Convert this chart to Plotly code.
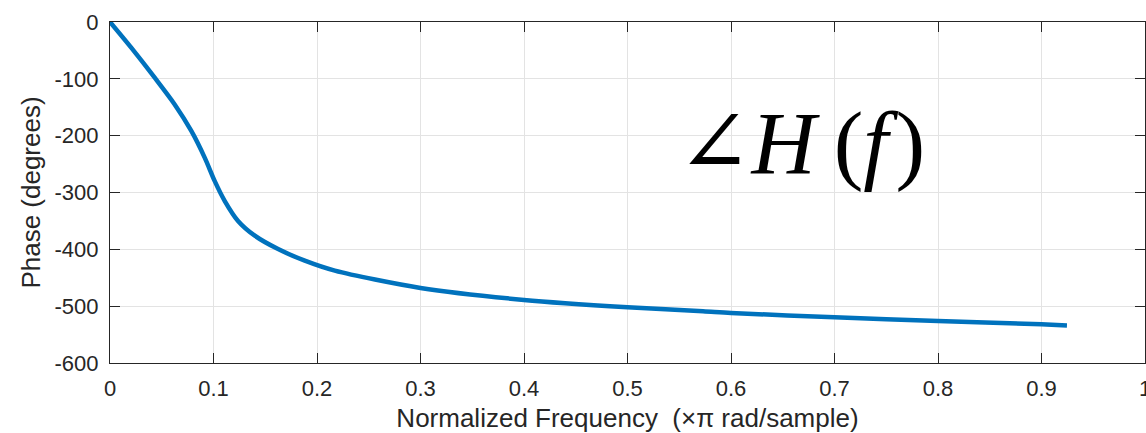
import plotly.graph_objects as go

# Data
freq = [0.0, 0.0207, 0.0432, 0.0625, 0.0787, 0.0916, 0.1012, 0.1109, 0.1237,
        0.1399, 0.1624, 0.1882, 0.2172, 0.3, 0.4, 0.5, 0.573, 0.6, 0.7, 0.8,
        0.9, 0.9246]
phase = [0, -45.6, -98, -145, -192, -239, -280, -315, -350,
         -376, -399.5, -420, -437.5, -468, -489, -502, -509, -512, -519.5, -526,
         -532, -534]

x_ticks = [0, 0.1, 0.2, 0.3, 0.4, 0.5, 0.6, 0.7, 0.8, 0.9, 1]
x_tick_labels = ["0", "0.1", "0.2", "0.3", "0.4", "0.5", "0.6", "0.7", "0.8", "0.9", "1"]
y_ticks = [0, -100, -200, -300, -400, -500, -600]
y_tick_labels = ["0", "-100", "-200", "-300", "-400", "-500", "-600"]

axis_color = "#262626"
font_family = "Liberation Sans, Arial, sans-serif"

fig = go.Figure()
fig.add_trace(go.Scatter(
    x=freq, y=phase, mode="lines",
    line=dict(color="#0072BD", width=4.5, shape="spline", smoothing=0.8),
    showlegend=False, hoverinfo="skip",
))

fig.add_annotation(
    x=0.668, y=-213, xref="x", yref="y",
    text="∠<i>H</i>\u2009(<i>f</i>\u200a)", showarrow=False,
    font=dict(family="Liberation Serif, DejaVu Serif, serif", size=89, color="black"),
)

common = dict(
    showline=True, linecolor=axis_color, linewidth=1, mirror="ticks",
    ticks="inside", ticklen=10, tickcolor=axis_color, tickwidth=1,
    showgrid=True, gridcolor="#e3e3e3", gridwidth=1, zeroline=False,
    tickfont=dict(family=font_family, size=22, color=axis_color),
    automargin=False, ticklabeloverflow="allow",
)

fig.update_xaxes(
    range=[0, 1], tickvals=x_ticks, ticktext=x_tick_labels,
    ticklabelstandoff=6,
    title=dict(text="Normalized Frequency&nbsp;&nbsp;(×π rad/sample)",
               font=dict(family=font_family, size=26, color=axis_color), standoff=8),
    **common,
)
fig.update_yaxes(
    range=[-600, 0], tickvals=y_ticks, ticktext=y_tick_labels,
    ticklabelstandoff=6,
    title=dict(text="Phase (degrees)",
               font=dict(family=font_family, size=26, color=axis_color), standoff=6),
    **common,
)

fig.update_layout(
    width=1146, height=433,
    margin=dict(l=110, r=1, t=22, b=70),
    paper_bgcolor="white", plot_bgcolor="white",
)

fig.write_html("out.html", config={"displayModeBar": False},
               post_script="document.body.style.margin='0';")
